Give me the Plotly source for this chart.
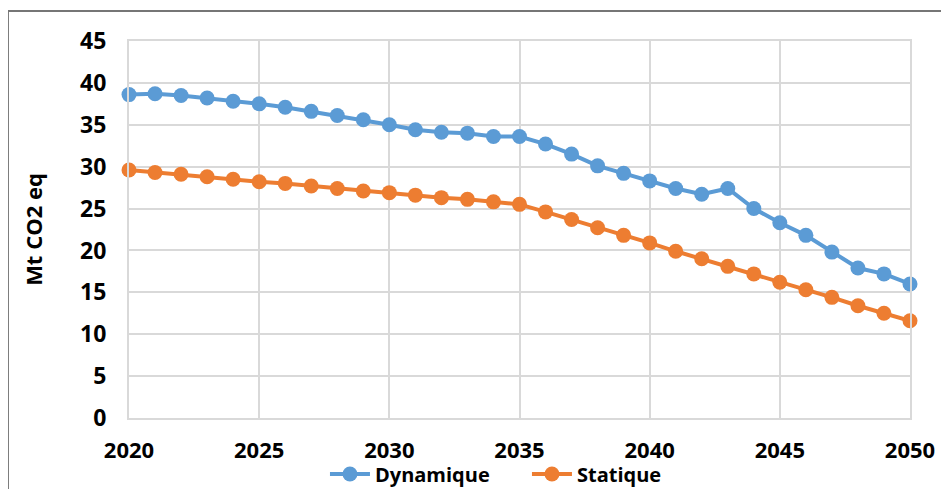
import plotly.graph_objects as go

# années
years = list(range(2020, 2051))

# émissions (Mt CO2 eq)
dynamique = [38.6, 38.7, 38.5, 38.2, 37.8, 37.5, 37.1, 36.6, 36.1, 35.6,
             35.0, 34.4, 34.1, 34.0, 33.6, 33.6, 32.7, 31.5, 30.1, 29.2,
             28.3, 27.4, 26.7, 27.4, 25.0, 23.3, 21.8, 19.8, 17.9, 17.2,
             16.0]
statique = [29.6, 29.3, 29.1, 28.8, 28.5, 28.2, 28.0, 27.7, 27.4, 27.1,
            26.9, 26.6, 26.3, 26.1, 25.8, 25.5, 24.6, 23.7, 22.7, 21.8,
            20.9, 19.9, 19.0, 18.1, 17.2, 16.2, 15.3, 14.4, 13.4, 12.5,
            11.6]

x_ticks = [2020, 2025, 2030, 2035, 2040, 2045, 2050]
y_ticks = [0, 5, 10, 15, 20, 25, 30, 35, 40, 45]

font_family = 'Open Sans'
grid_color = '#d9d9d9'

fig = go.Figure()

fig.add_trace(go.Scatter(
    x=years, y=dynamique, name='Dynamique',
    mode='lines+markers',
    line=dict(color='#5b9bd5', width=4),
    marker=dict(color='#5b9bd5', size=15),
    cliponaxis=False
))
fig.add_trace(go.Scatter(
    x=years, y=statique, name='Statique',
    mode='lines+markers',
    line=dict(color='#ed7d31', width=4),
    marker=dict(color='#ed7d31', size=15),
    cliponaxis=False
))

# cadre extérieur du graphique
fig.add_shape(
    type='rect', xref='paper', yref='paper',
    x0=-0.155, x1=1.1, y0=-0.25, y1=1.0796,
    line=dict(color='#767676', width=2),
    layer='below'
)

# la page ajoute une marge de 8px autour du graphique
fig.update_layout(
    width=949,
    height=489,
    margin=dict(l=121, r=47, t=33, b=79),
    paper_bgcolor='white',
    plot_bgcolor='white',
    font=dict(family=font_family, size=22, color='black', weight='bold'),
    showlegend=True,
    legend=dict(
        orientation='h',
        xref='container', yref='container',
        xanchor='left', x=0.334,
        yanchor='middle', y=0.047,
        font=dict(family=font_family, size=20, color='black', weight='bold'),
        bgcolor='rgba(0,0,0,0)',
        itemwidth=40,
        entrywidth=147
    ),
    xaxis=dict(
        range=[2020, 2050],
        tickvals=x_ticks,
        automargin=False,
        showgrid=True, gridcolor=grid_color, gridwidth=2,
        showline=True, linecolor=grid_color, linewidth=2, mirror=True,
        zeroline=False,
        ticklabelstandoff=12,
        tickfont=dict(family=font_family, size=22, weight='bold')
    ),
    yaxis=dict(
        range=[0, 45],
        tickvals=y_ticks,
        automargin=False,
        showgrid=True, gridcolor=grid_color, gridwidth=2,
        showline=True, linecolor=grid_color, linewidth=2, mirror=True,
        zeroline=False,
        ticklabelstandoff=16,
        tickfont=dict(family=font_family, size=23, weight='bold'),
        title=dict(text='Mt CO2 eq', standoff=31,
                   font=dict(family=font_family, size=22, weight='bold'))
    )
)

fig.write_html("out.html")
